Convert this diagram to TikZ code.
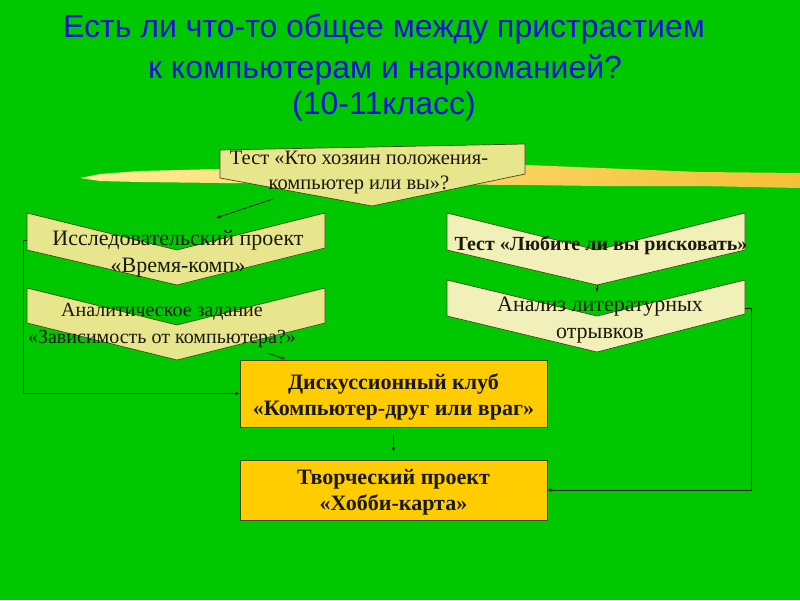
\documentclass[tikz,border=0pt]{standalone}
\usepackage{fontspec}
\setmainfont{Liberation Serif}
\newfontfamily\titlefont{Liberation Sans}
\usetikzlibrary{arrows.meta}
\definecolor{bg}{RGB}{0,200,0}
\definecolor{titleblue}{RGB}{20,20,210}
\definecolor{khaki}{RGB}{232,230,140}
\definecolor{cream}{RGB}{242,240,185}
\definecolor{gold}{RGB}{255,204,0}
\definecolor{edge}{RGB}{70,70,25}
\definecolor{ink}{RGB}{25,25,15}
\begin{document}
\begin{tikzpicture}[x=1pt,y=-1pt,
  titletext/.style={font=\titlefont\fontsize{32}{38}\selectfont, text=titleblue, anchor=base, inner sep=0},
  chev/.style={draw=edge, line width=0.7pt},
  txt/.style={align=center, text=ink, inner sep=0, font=\fontsize{22}{27}\selectfont},
  rectbox/.style={draw=edge, line width=0.7pt, fill=gold, minimum width=307pt, inner sep=0},
  recttxt/.style={align=center, text=ink, inner sep=0, font=\bfseries\fontsize{22}{26}\selectfont},
  conn/.style={draw=ink, line width=0.7pt, -{Stealth[length=5pt,width=3.5pt]}}
]
\useasboundingbox (0,0) rectangle (800,600);
\fill[bg] (0,0) rectangle (800,600);

% title
\node[titletext] (title1) at (384,37) {Есть ли что-то общее между пристрастием};
\node[titletext] (title2) at (385,78) {к компьютерам и наркоманией?};
\node[titletext] (title3) at (384,114) {(10-11класс)};

% brush band
\shade[left color={rgb,255:red,255;green,236;blue,150}, right color={rgb,255:red,245;green,192;blue,55}]
  (80,178) -- (100,174) -- (140,171) -- (220,169) -- (527,165) -- (600,168) -- (700,172) -- (800,173)
  -- (800,188) -- (700,186) -- (600,186) -- (527,185) -- (220,183) -- (140,182) -- (100,181) -- cycle;

% top chevron
\draw[chev, fill=khaki] (220,150) -- (525,144) -- (525,174) -- (372,206) -- (220,178) -- cycle;
\node[txt, font=\fontsize{20.5}{25}\selectfont] (T) at (359,172.5) {Тест «Кто хозяин положения-\\компьютер или вы»?};

% left chevrons
\draw[chev, fill=khaki] (27,213) -- (177,250) -- (325,213) -- (325,248) -- (177,285) -- (27,250) -- cycle;
\node[txt] (A) at (178,253.5) {Исследовательский проект\\«Время-комп»};
\draw[chev, fill=khaki] (27,288) -- (177,325) -- (325,288) -- (325,323) -- (177,360) -- (27,323) -- cycle;
\node[txt, font=\fontsize{20}{27}\selectfont] (B) at (162,325.5) {Аналитическое задание\\«Зависимость от компьютера?»};

% right chevrons
\draw[chev, fill=cream] (447,213) -- (597,250) -- (745,213) -- (745,250) -- (597,285) -- (447,250) -- cycle;
\node[txt, font=\bfseries\fontsize{20}{24}\selectfont] (C) at (601,245) {Тест «Любите ли вы рисковать»};
\draw[chev, fill=cream] (447,280) -- (597,316) -- (745,280) -- (745,314) -- (597,352) -- (447,316) -- cycle;
\node[txt] (D) at (600,320.5) {Анализ литературных\\отрывков};

% rectangles
\node[rectbox, minimum height=67pt] (R1) at (393.5,393.5) {};
\node[recttxt] (R1t) at (393.5,397) {Дискуссионный клуб\\«Компьютер-друг или враг»};
\node[rectbox, minimum height=60pt] (R2) at (393.5,490) {};
\node[recttxt] (R2t) at (393.5,492.5) {Творческий проект\\«Хобби-карта»};

% connector end points
\coordinate (Tout) at (273,199);
\coordinate (Ain) at (216,218);
\coordinate (Aleft) at (27,240);
\coordinate (Bout) at (267,353);
\coordinate (R1in) at (285,359);
\coordinate (Cout) at (597,285);
\coordinate (Din) at (597,292);
\coordinate (Dright) at (745,308);

% connectors
\draw[conn] (Tout) -- (Ain);
\draw[conn] (Aleft) -- ++(-4,0) |- (R1.west);
\draw[conn] (Bout) -- (R1in);
\draw[conn] (Cout) -- (Din);
\draw[conn] (Dright) -- ++(6,0) |- (R2.east);
\draw[conn, shorten <=8pt, shorten >=8pt] (R1.south) -- (R2.north);
\end{tikzpicture}
\end{document}
